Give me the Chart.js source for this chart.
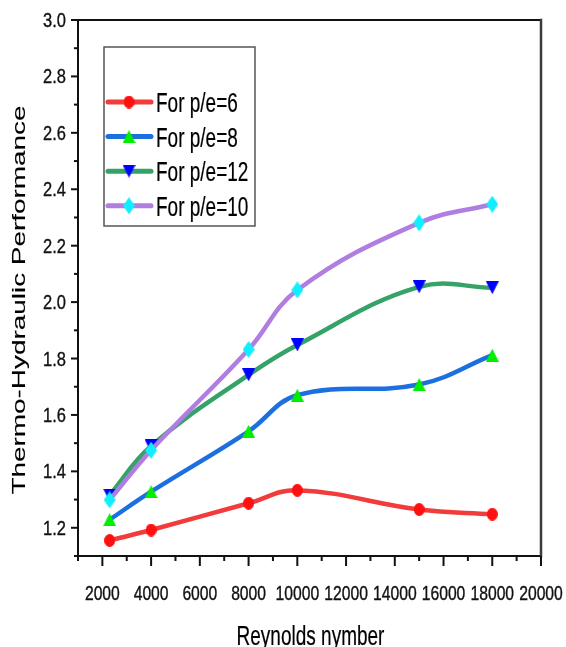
<!DOCTYPE html>
<html>
<head>
<meta charset="utf-8">
<script src="https://cdn.jsdelivr.net/npm/chart.js@4/dist/chart.umd.min.js"></script>
<style>
  html, body { margin: 0; padding: 0; background: #fff; }
  #wrap { width: 566px; height: 647px; position: relative; }
</style>
</head>
<body>
<div id="wrap"><canvas id="c" width="566" height="647"></canvas></div>
<script>
// ---- data ----
const reynolds = [2300, 4000, 8000, 10000, 15000, 18000];
const pe6  = [1.155, 1.192, 1.287, 1.333, 1.265, 1.248];
const pe8  = [1.229, 1.328, 1.542, 1.670, 1.708, 1.812];
const pe12 = [1.316, 1.490, 1.742, 1.848, 2.054, 2.051];
const pe10 = [1.299, 1.475, 1.832, 2.043, 2.281, 2.347];
const seriesLabels = ['For p/e=6', 'For p/e=8', 'For p/e=12', 'For p/e=10'];
const xTitle = 'Reynolds nymber';
const yTitle = 'Thermo-Hydraulic Performance';

// ---- marker images (slightly tall, like the reference) ----
function makeMarker(kind, color, w, h) {
  const cv = document.createElement('canvas');
  cv.width = w; cv.height = h;
  const g = cv.getContext('2d');
  g.fillStyle = color;
  g.beginPath();
  if (kind === 'circle') {
    g.ellipse(w / 2, h / 2, w / 2, h / 2, 0, 0, Math.PI * 2);
  } else if (kind === 'up') {
    g.moveTo(w / 2, 0); g.lineTo(w, h); g.lineTo(0, h); g.closePath();
  } else if (kind === 'down') {
    g.moveTo(0, 0); g.lineTo(w, 0); g.lineTo(w / 2, h); g.closePath();
  } else if (kind === 'diamond') {
    g.moveTo(w / 2, 0); g.lineTo(w, h / 2); g.lineTo(w / 2, h); g.lineTo(0, h / 2); g.closePath();
  }
  g.fill();
  return cv;
}
const mRed = makeMarker('circle', '#ff1010', 11, 13);
const mGreen = makeMarker('up', '#00ee00', 13, 13);
const mBlue = makeMarker('down', '#0000ff', 13, 13);
const mCyan = makeMarker('diamond', '#11eeff', 12, 17);

function pts(ys) { return reynolds.map((x, i) => ({ x: x, y: ys[i] })); }

function ds(label, ys, color, marker, order) {
  return {
    label: label,
    data: pts(ys),
    borderColor: color,
    backgroundColor: color,
    borderWidth: 4.5,
    tension: 0.4,
    pointStyle: marker,
    pointRadius: 6,
    pointHoverRadius: 6,
    order: order,
    clip: false
  };
}

function stretchedText(ctx, text, x, y, sx, sy, align, rot, weight) {
  ctx.save();
  ctx.translate(x, y);
  if (rot) ctx.rotate(rot);
  ctx.scale(sx, sy);
  ctx.textAlign = align;
  ctx.textBaseline = 'alphabetic';
  ctx.fillText(text, 0, 0);
  if (weight) {
    ctx.lineWidth = weight;
    ctx.strokeStyle = ctx.fillStyle;
    ctx.strokeText(text, 0, 0);
  }
  ctx.restore();
}

const decor = {
  id: 'decor',
  beforeDatasetsDraw(chart) {
    const { ctx, chartArea: ca, scales } = chart;
    const xs = scales.x, ys = scales.y;
    ctx.save();
    // frame
    ctx.lineCap = 'square';
    ctx.strokeStyle = '#111';
    ctx.lineWidth = 2;
    ctx.beginPath();
    ctx.moveTo(ca.left, ca.bottom); ctx.lineTo(ca.left, ca.top);
    ctx.moveTo(ca.left, ca.bottom); ctx.lineTo(ca.right, ca.bottom);
    ctx.moveTo(ca.left, ca.top); ctx.lineTo(ca.right, ca.top);
    ctx.stroke();
    ctx.strokeStyle = '#3a3a3a';
    ctx.lineWidth = 2.5;
    ctx.beginPath();
    ctx.moveTo(ca.right, ca.top); ctx.lineTo(ca.right, ca.bottom);
    ctx.stroke();

    // y ticks + labels
    ctx.fillStyle = '#111';
    ctx.lineCap = 'butt';
    ctx.font = '16.5px "Liberation Sans", Arial, sans-serif';
    ys.ticks.forEach(t => {
      const v = t.value;
      const p = ys.getPixelForValue(v);
      const tenth = Math.round(v * 10);
      const major = tenth % 2 === 0;
      const len = major ? 7 : 4;
      ctx.strokeStyle = '#111';
      ctx.lineWidth = 2;
      ctx.beginPath();
      ctx.moveTo(ca.left - len, p); ctx.lineTo(ca.left, p);
      ctx.stroke();
      if (major) {
        stretchedText(ctx, (tenth / 10).toFixed(1), ca.left - 12, p + 7, 1, 1.2, 'right', 0, 0.3);
      }
    });

    // x ticks + labels
    ctx.font = '15.7px "Liberation Sans", Arial, sans-serif';
    xs.ticks.forEach(t => {
      const v = t.value;
      const p = xs.getPixelForValue(v);
      const major = Math.round(v) % 2000 === 0;
      const len = major ? 10 : 5;
      ctx.strokeStyle = '#111';
      ctx.lineWidth = 2;
      ctx.beginPath();
      ctx.moveTo(p, ca.bottom); ctx.lineTo(p, ca.bottom + len);
      ctx.stroke();
      if (major && v >= 2000) {
        stretchedText(ctx, String(Math.round(v)), p, 599.5, 1, 1.25, 'center', 0, 0.3);
      }
    });

    // axis titles
    ctx.fillStyle = '#000';
    ctx.font = '19px "Liberation Sans", Arial, sans-serif';
    stretchedText(ctx, xTitle, (ca.left + ca.right) / 2 + 1, 645, 1, 1.45, 'center', 0, 0.15);
    ctx.font = '18px "Liberation Sans", Arial, sans-serif';
    stretchedText(ctx, yTitle, 25, 300, 1.55, 1, 'center', -Math.PI / 2, 0.1);
    ctx.restore();
  },
  afterDatasetsDraw(chart) {
    const { ctx } = chart;
    ctx.save();
    // legend box
    const bx = 104, by = 47, bw = 151, bh = 179;
    ctx.fillStyle = '#fff';
    ctx.fillRect(bx, by, bw, bh);
    ctx.strokeStyle = '#555';
    ctx.lineWidth = 1.5;
    ctx.strokeRect(bx, by, bw, bh);
    ctx.font = '19px "Liberation Sans", Arial, sans-serif';
    chart.data.datasets.forEach((d, i) => {
      const cy = 102 + i * 34.6;
      ctx.strokeStyle = d.borderColor;
      ctx.lineWidth = 5;
      ctx.lineCap = 'round';
      ctx.beginPath();
      ctx.moveTo(108, cy); ctx.lineTo(151, cy);
      ctx.stroke();
      const m = d.pointStyle;
      ctx.drawImage(m, 129 - m.width / 2, cy - m.height / 2);
      ctx.fillStyle = '#000';
      stretchedText(ctx, d.label, 156, cy + 9.9, 1, 1.45, 'left', 0, 0.15);
    });
    ctx.restore();
  }
};

new Chart(document.getElementById('c'), {
  type: 'line',
  data: {
    datasets: [
      ds(seriesLabels[0], pe6, '#f23c3c', mRed, 4),
      ds(seriesLabels[1], pe8, '#1c6fde', mGreen, 3),
      ds(seriesLabels[2], pe12, '#35a267', mBlue, 2),
      ds(seriesLabels[3], pe10, '#b07ee0', mCyan, 1)
    ]
  },
  options: {
    responsive: false,
    animation: false,
    events: [],
    layout: { padding: { left: 70, right: 25, top: 20, bottom: 83 } },
    plugins: { legend: { display: false }, tooltip: { enabled: false } },
    scales: {
      x: {
        type: 'linear', min: 1000, max: 20000,
        ticks: { display: false, stepSize: 1000, maxTicksLimit: 100 },
        grid: { display: false },
        border: { display: false }
      },
      y: {
        type: 'linear', min: 1.1, max: 3.0,
        ticks: { display: false, stepSize: 0.1, maxTicksLimit: 100 },
        grid: { display: false },
        border: { display: false }
      }
    }
  },
  plugins: [decor]
});
</script>
</body>
</html>
